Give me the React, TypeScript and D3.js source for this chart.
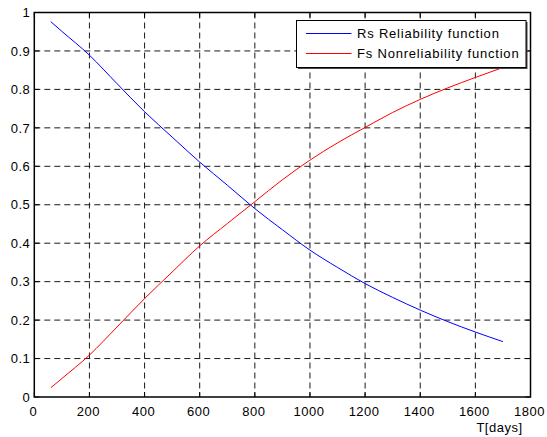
import { useEffect, useRef } from 'react';
import * as d3 from 'd3';

// reliability data
const days = [60, 100, 200, 300, 400, 500, 600, 700, 800, 900, 1000, 1100, 1200, 1300, 1400, 1500, 1600, 1700];
const reliability = [0.976, 0.951, 0.889, 0.815, 0.742, 0.676, 0.611, 0.551, 0.490, 0.435, 0.382, 0.337, 0.295, 0.259, 0.226, 0.196, 0.169, 0.144];
const nonReliability = [0.024, 0.048, 0.109, 0.182, 0.256, 0.325, 0.393, 0.451, 0.508, 0.565, 0.616, 0.661, 0.701, 0.740, 0.774, 0.804, 0.831, 0.857];
const xTicks = [0, 200, 400, 600, 800, 1000, 1200, 1400, 1600, 1800];
const yTicks = [0, 0.1, 0.2, 0.3, 0.4, 0.5, 0.6, 0.7, 0.8, 0.9, 1];
const seriesLabels = ['Rs Reliability function', 'Fs Nonreliability function'];
const seriesColors = ['#0000ff', '#ff0000'];

const W = 547;
const H = 437;
const FONT = 'Liberation Sans, Arial, sans-serif';

export default function App() {
  const svgRef = useRef<SVGSVGElement>(null);

  useEffect(() => {
    if (!svgRef.current) return;
    const svg = d3.select(svgRef.current);
    svg.selectAll('*').remove();

    const left = 34.3, right = 530.5, top = 12.5, bottom = 397;
    const x = d3.scaleLinear().domain([0, 1800]).range([left, right]);
    const y = d3.scaleLinear().domain([0, 1]).range([bottom, top]);

    svg.append('rect').attr('width', W).attr('height', H).attr('fill', '#fff');

    // Grid
    const grid = svg.append('g').attr('stroke', '#1a1a1a').attr('stroke-width', 1).attr('stroke-dasharray', '6,4');
    xTicks.slice(1, -1).forEach(t => {
      grid.append('line').attr('x1', x(t)).attr('x2', x(t)).attr('y1', top).attr('y2', bottom);
    });
    yTicks.slice(1, -1).forEach(t => {
      grid.append('line').attr('x1', left).attr('x2', right).attr('y1', y(t)).attr('y2', y(t));
    });

    // Inward ticks on all sides
    const ticks = svg.append('g').attr('stroke', '#000').attr('stroke-width', 1);
    const tl = 5;
    xTicks.forEach(t => {
      ticks.append('line').attr('x1', x(t)).attr('x2', x(t)).attr('y1', bottom).attr('y2', bottom - tl);
      ticks.append('line').attr('x1', x(t)).attr('x2', x(t)).attr('y1', top).attr('y2', top + tl);
    });
    yTicks.forEach(t => {
      ticks.append('line').attr('x1', left).attr('x2', left + tl).attr('y1', y(t)).attr('y2', y(t));
      ticks.append('line').attr('x1', right).attr('x2', right - tl).attr('y1', y(t)).attr('y2', y(t));
    });

    // Curves
    const line = d3.line<number>()
      .x((d, i) => x(days[i]))
      .y(d => y(d))
      .curve(d3.curveMonotoneX);
    [reliability, nonReliability].forEach((vals, si) => {
      svg.append('path')
        .datum(vals)
        .attr('fill', 'none')
        .attr('stroke', seriesColors[si])
        .attr('stroke-width', 1)
        .attr('d', line);
    });

    // Box
    svg.append('rect')
      .attr('x', left).attr('y', top)
      .attr('width', right - left).attr('height', bottom - top)
      .attr('fill', 'none').attr('stroke', '#000').attr('stroke-width', 1.5);

    // Tick labels
    xTicks.forEach(t => {
      svg.append('text')
        .attr('x', x(t) - 1).attr('y', bottom + 19)
        .attr('text-anchor', 'middle')
        .attr('font-family', FONT).attr('font-size', 13)
        .attr('letter-spacing', 0.5)
        .text(String(t));
    });
    yTicks.forEach(t => {
      svg.append('text')
        .attr('x', left - 4).attr('y', y(t) + 4.7)
        .attr('text-anchor', 'end')
        .attr('font-family', FONT).attr('font-size', 13)
        .attr('letter-spacing', 0.5)
        .text(d3.format('~g')(t));
    });

    svg.append('text')
      .attr('x', 522.5).attr('y', 432)
      .attr('text-anchor', 'end')
      .attr('font-family', FONT).attr('font-size', 13)
      .attr('letter-spacing', 0.5)
      .text('T[days]');

    // Legend
    const lx = 296.5, ly = 20.5, lw = 229.5, lh = 47;
    svg.append('rect').attr('x', lx + 1.5).attr('y', ly + 1.5).attr('width', lw).attr('height', lh).attr('fill', '#444');
    svg.append('rect').attr('x', lx).attr('y', ly).attr('width', lw).attr('height', lh)
      .attr('fill', '#fff').attr('stroke', '#000').attr('stroke-width', 1);
    seriesLabels.forEach((lab, i) => {
      const ry = ly + 13 + i * 20;
      svg.append('line').attr('x1', lx + 9.5).attr('x2', lx + 55).attr('y1', ry).attr('y2', ry)
        .attr('stroke', seriesColors[i]).attr('stroke-width', 1);
      svg.append('text')
        .attr('x', lx + 60.5).attr('y', ry + 4.7)
        .attr('font-family', FONT).attr('font-size', 13)
        .attr('letter-spacing', 0.8)
        .text(lab);
    });
  }, []);

  return (
    <svg ref={svgRef} width={W} height={H}
      style={{ position: 'absolute', left: 0, top: 0, display: 'block' }} />
  );
}
